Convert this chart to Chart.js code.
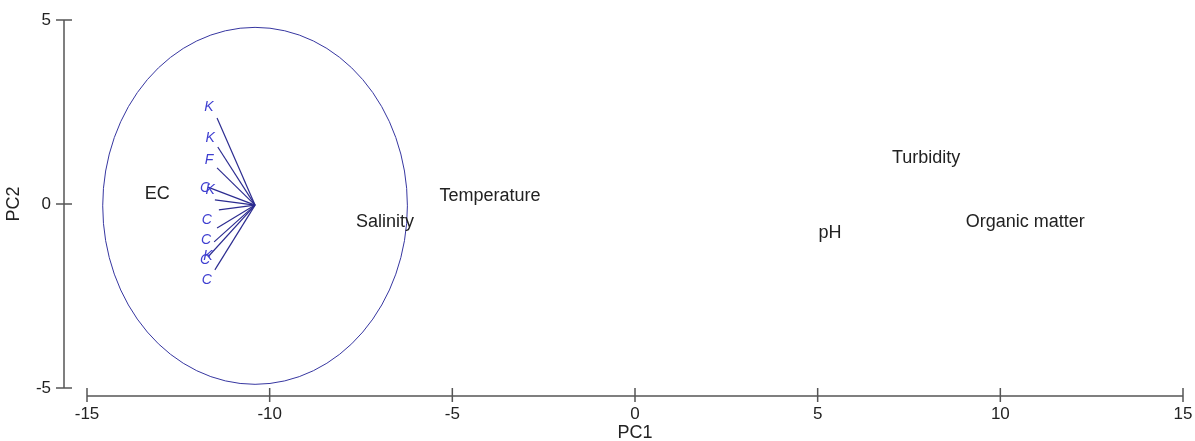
<!DOCTYPE html>
<html>
<head>
<meta charset="utf-8">
<script src="https://cdn.jsdelivr.net/npm/chart.js@4.4.1/dist/chart.umd.min.js"></script>
<style>
  html, body { margin: 0; padding: 0; background: #fff; }
  #wrap { width: 1195px; height: 441px; }
</style>
</head>
<body>
<div id="wrap"><canvas id="pcaChart"></canvas></div>
<script>
// variable labels (scores)
const sampleNames = ['EC', 'Salinity', 'Temperature', 'pH', 'Turbidity', 'Organic matter'];
const sampleX = [-13.08, -6.84, -3.97, 5.34, 7.97, 10.68];
const sampleY = [0.27, -0.49, 0.22, -0.79, 1.25, -0.49];

// loading vectors, all from the same origin
const loadingOrigin = [-10.4, -0.03];
const loadingX = [-11.44, -11.42, -11.44, -11.69, -11.5, -11.39, -11.44, -11.52, -11.69, -11.5];
const loadingY = [2.34, 1.55, 0.98, 0.46, 0.11, -0.16, -0.65, -1.03, -1.44, -1.79];

// truncated loading names
const loadingNames = ['K', 'K', 'F', 'C', 'K', 'C', 'C', 'C', 'K', 'C'];
const loadingLabelX = [-11.66, -11.63, -11.66, -11.77, -11.63, -11.72, -11.74, -11.77, -11.69, -11.72];
const loadingLabelY = [2.64, 1.79, 1.2, 0.43, 0.38, -0.43, -0.98, -1.52, -1.41, -2.07];

// circle (data units)
const circleCenter = [-10.4, -0.05];
const circleRadius = [4.17, 4.85];

const xTicks = [-15, -10, -5, 0, 5, 10, 15];
const yTicks = [-5, 0, 5];

const FONT = '"Liberation Sans", Arial, sans-serif';

let dataset = [];
dataset.push({
    label: 'scores',
    data: sampleX.map((x, i) => ({ x: x, y: sampleY[i], name: sampleNames[i] })),
    pointRadius: 0,
    showLine: false
});
loadingX.forEach((x, i) => {
    dataset.push({
        label: 'loading' + i,
        data: [{ x: loadingOrigin[0], y: loadingOrigin[1] }, { x: x, y: loadingY[i] }],
        showLine: true,
        borderColor: '#2c2c90',
        borderWidth: 1.2,
        pointRadius: 0
    });
});

function noPad(scale) {
    scale.paddingTop = 0;
    scale.paddingBottom = 0;
    scale.paddingLeft = 0;
    scale.paddingRight = 0;
}

const textPlugin = {
    id: 'textPlugin',
    afterDatasetsDraw(chart) {
        const ctx = chart.ctx;
        const xs = chart.scales.x, ys = chart.scales.y;
        ctx.save();
        // circle
        const cx = xs.getPixelForValue(circleCenter[0]);
        const cy = ys.getPixelForValue(circleCenter[1]);
        const rx = Math.abs(xs.getPixelForValue(circleCenter[0] + circleRadius[0]) - cx);
        const ry = Math.abs(ys.getPixelForValue(circleCenter[1] + circleRadius[1]) - cy);
        ctx.strokeStyle = '#3636a0';
        ctx.lineWidth = 1;
        ctx.beginPath();
        ctx.ellipse(cx, cy, rx, ry, 0, 0, Math.PI * 2);
        ctx.stroke();

        // score labels
        ctx.fillStyle = '#222';
        ctx.font = '18px ' + FONT;
        ctx.textAlign = 'center';
        ctx.textBaseline = 'middle';
        sampleNames.forEach((name, i) => {
            ctx.fillText(name, xs.getPixelForValue(sampleX[i]), ys.getPixelForValue(sampleY[i]));
        });

        // loading labels
        ctx.fillStyle = '#3f3fd0';
        ctx.font = 'italic 14px ' + FONT;
        loadingNames.forEach((name, i) => {
            ctx.fillText(name, xs.getPixelForValue(loadingLabelX[i]), ys.getPixelForValue(loadingLabelY[i]));
        });

        // detached axes
        ctx.strokeStyle = '#555';
        ctx.lineWidth = 1.5;
        const axX = xs.getPixelForValue(-15) - 23;
        const axY = ys.getPixelForValue(-5) + 8;
        ctx.beginPath();
        ctx.moveTo(axX, ys.getPixelForValue(5));
        ctx.lineTo(axX, ys.getPixelForValue(-5));
        yTicks.forEach(v => {
            const p = ys.getPixelForValue(v);
            ctx.moveTo(axX - 8, p);
            ctx.lineTo(axX + 8, p);
        });
        ctx.moveTo(xs.getPixelForValue(-15), axY);
        ctx.lineTo(xs.getPixelForValue(15), axY);
        xTicks.forEach(v => {
            const p = xs.getPixelForValue(v);
            ctx.moveTo(p, axY - 8);
            ctx.lineTo(p, axY + 6);
        });
        ctx.stroke();
        ctx.restore();
    }
};

new Chart(document.getElementById('pcaChart'), {
    type: 'scatter',
    data: { datasets: dataset },
    options: {
        responsive: true,
        maintainAspectRatio: false,
        animation: false,
        layout: { padding: { top: 20, right: 12, bottom: 0, left: 0 } },
        scales: {
            x: {
                type: 'linear',
                min: -15,
                max: 15,
                afterBuildTicks: (scale) => { scale.ticks = xTicks.map(v => ({ value: v })); },
                afterFit: (scale) => { scale.height = 53; noPad(scale); },
                grid: { display: false, drawTicks: false },
                border: { display: false },
                ticks: { color: '#222', padding: 16, font: { family: FONT, size: 17 } },
                title: { display: true, text: 'PC1', color: '#222', padding: { top: 0, bottom: -3 }, font: { family: FONT, size: 18 } }
            },
            y: {
                type: 'linear',
                min: -5,
                max: 5,
                afterBuildTicks: (scale) => { scale.ticks = yTicks.map(v => ({ value: v })); },
                afterFit: (scale) => { scale.width = 87; noPad(scale); },
                grid: { display: false, drawTicks: false },
                border: { display: false },
                ticks: { color: '#222', padding: 36, font: { family: FONT, size: 17 } },
                title: { display: true, text: 'PC2', color: '#222', padding: { top: 3, bottom: 0 }, font: { family: FONT, size: 18 } }
            }
        },
        plugins: {
            legend: { display: false },
            tooltip: { enabled: false }
        }
    },
    plugins: [textPlugin]
});
</script>
</body>
</html>
